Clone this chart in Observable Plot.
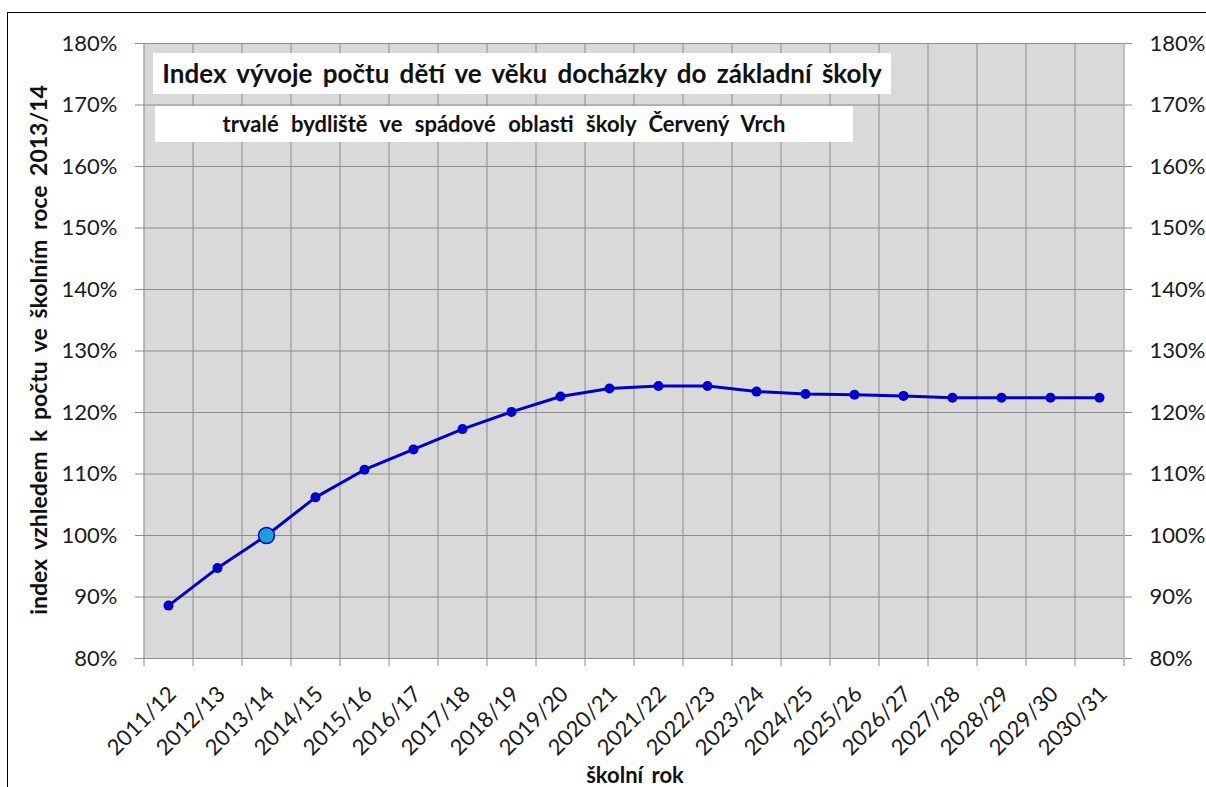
<!DOCTYPE html>
<html>
<head>
<meta charset="utf-8">
<script src="https://cdn.jsdelivr.net/npm/d3@7"></script>
<script src="https://cdn.jsdelivr.net/npm/@observablehq/plot@0.6"></script>
<style>
  html, body { margin: 0; padding: 0; background: #fff; }
  #wrap { position: relative; width: 1206px; height: 787px; overflow: hidden; font-family: Lato, "Open Sans", sans-serif; }
  #chart { position: absolute; left: 0; top: 0; }
  #border { position: absolute; left: 7px; top: 12px; width: 1240px; height: 820px; border: 1.5px solid #000; box-sizing: border-box; pointer-events: none; }
  .box { position: absolute; background: #fff; font-weight: bold; color: #111; text-align: center; white-space: nowrap; }
  #title { left: 153px; top: 53px; width: 738px; height: 41px; line-height: 41px; font-size: 26px; word-spacing: 4px; }
  #subtitle { left: 155px; top: 106px; width: 698px; height: 36px; line-height: 36px; font-size: 22px; word-spacing: 7px; }
  #ylabel { position: absolute; left: 38px; top: 350px; width: 640px; height: 30px; line-height: 30px; margin-left: -320px; margin-top: -15px; transform: rotate(-90deg); text-align: center; font-weight: bold; font-size: 23px; word-spacing: 4px; color: #111; white-space: nowrap; }
  #xlabel { position: absolute; left: 635px; top: 774px; transform: translate(-50%, -50%); font-weight: bold; font-size: 22px; word-spacing: 3px; color: #111; white-space: nowrap; }
</style>
</head>
<body>
<div id="wrap">
  <div id="chart"></div>
  <div id="border"></div>
  <div class="box" id="title"></div>
  <div class="box" id="subtitle"></div>
  <div id="ylabel"></div>
  <div id="xlabel"></div>
</div>
<script>
// ---- data ----
const years = ["2011/12","2012/13","2013/14","2014/15","2015/16","2016/17","2017/18","2018/19","2019/20","2020/21",
               "2021/22","2022/23","2023/24","2024/25","2025/26","2026/27","2027/28","2028/29","2029/30","2030/31"];
const indexValues = [88.6, 94.7, 100, 106.2, 110.7, 114.0, 117.3, 120.1, 122.6, 123.9,
                     124.3, 124.3, 123.4, 123.0, 122.9, 122.7, 122.4, 122.4, 122.4, 122.4];
const yTicks = [80, 90, 100, 110, 120, 130, 140, 150, 160, 170, 180];
const baseYear = "2013/14";
const baseValue = 100;
const titleText = "Index vývoje počtu dětí ve věku docházky do základní školy";
const subtitleText = "trvalé bydliště ve spádové oblasti školy Červený Vrch";
const yLabelText = "index vzhledem k počtu ve školním roce 2013/14";
const xLabelText = "školní rok";

// ---- layout ----
const W = 1206, H = 787;
const mL = 143, mR = 83, mT = 43, mB = 129;
const step = (W - mL - mR) / years.length;
const pxPerUnit = (H - mT - mB) / (yTicks[yTicks.length - 1] - yTicks[0]);
const tickLen = 8 / pxPerUnit;

const data = years.map((y, i) => ({year: y, value: indexValues[i]}));
const gridColor = "#8c8c8c";

const chart = Plot.plot({
  width: W,
  height: H,
  marginLeft: mL,
  marginRight: mR,
  marginTop: mT,
  marginBottom: mB,
  style: {fontFamily: "Lato, 'Open Sans', sans-serif", background: "transparent", overflow: "visible"},
  x: {type: "point", domain: years, padding: 0.5, align: 0.5},
  y: {domain: [yTicks[0], yTicks[yTicks.length - 1]]},
  marks: [
    Plot.frame({fill: "#d9d9d9", stroke: null}),
    Plot.gridY(yTicks, {stroke: gridColor, strokeOpacity: 1, strokeWidth: 1}),
    Plot.ruleX(years.slice(1), {dx: -step / 2, stroke: gridColor, strokeWidth: 1}),
    // bottom ticks at category boundaries
    Plot.ruleX(years, {dx: -step / 2, y1: yTicks[0], y2: yTicks[0] - tickLen, stroke: gridColor, strokeWidth: 1}),
    Plot.ruleX([years[years.length - 1]], {dx: step / 2, y1: yTicks[0] - tickLen, y2: yTicks[yTicks.length - 1], stroke: gridColor, strokeWidth: 1}),
    Plot.ruleX([years[0]], {dx: -step / 2, stroke: gridColor, strokeWidth: 1}),
    Plot.axisY(yTicks, {anchor: "left", tickFormat: d => d + "%", tickSize: 8, tickPadding: 18, fontSize: 22, stroke: gridColor, fill: "#1a1a1a", label: null}),
    Plot.axisY(yTicks, {anchor: "right", tickFormat: d => d + "%", tickSize: 8, tickPadding: 18, fontSize: 22, stroke: gridColor, fill: "#1a1a1a", label: null}),
    Plot.axisX(years, {anchor: "bottom", tickSize: 0, tickPadding: 32, tickRotate: -45, fontSize: 22, dx: 4, fill: "#1a1a1a", label: null}),
    Plot.ruleY([baseValue], {x1: years[0], x2: years[years.length - 1], stroke: "#000", strokeWidth: 3}),
    Plot.line(data, {x: "year", y: "value", stroke: "#0000cc", strokeWidth: 3}),
    Plot.dot(data, {x: "year", y: "value", r: 5, fill: "#0000cc", stroke: null}),
    Plot.dot(data.filter(d => d.year === baseYear), {x: "year", y: "value", r: 8, fill: "#1aa0d8", stroke: "#0000cc", strokeWidth: 1.5})
  ]
});
document.getElementById("chart").appendChild(chart);
document.getElementById("title").textContent = titleText;
document.getElementById("subtitle").textContent = subtitleText;
document.getElementById("ylabel").textContent = yLabelText;
document.getElementById("xlabel").textContent = xLabelText;
</script>
</body>
</html>
